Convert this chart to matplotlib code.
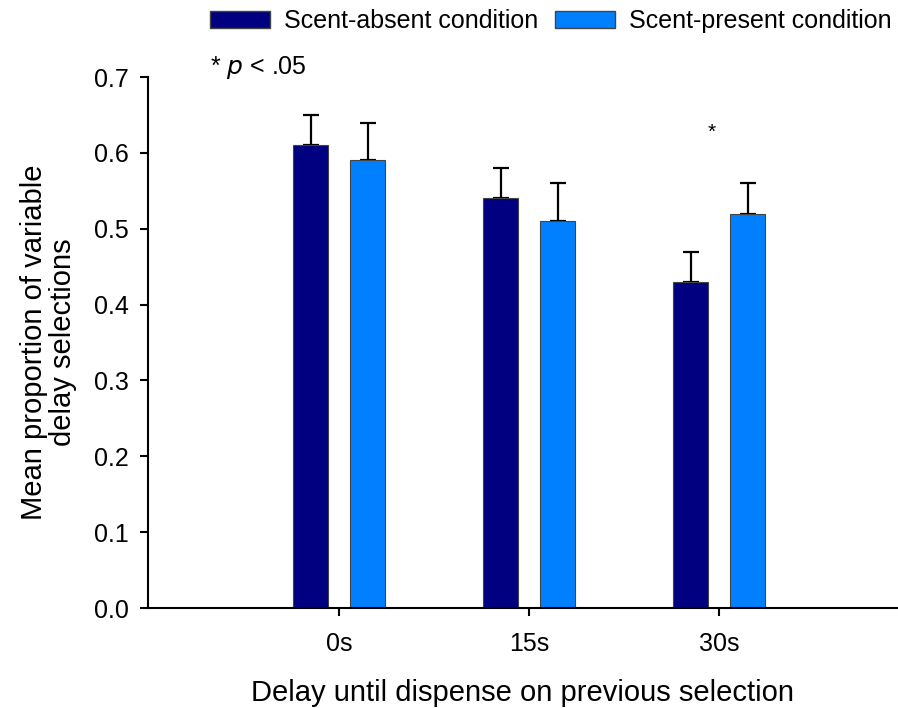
import matplotlib.pyplot as plt
from matplotlib.patches import Patch
import numpy as np

plt.rcParams['font.family'] = ['Liberation Sans', 'DejaVu Sans']

delays = ["0s", "15s", "30s"]
absent_mean = [0.61, 0.54, 0.43]
absent_err = [0.04, 0.04, 0.04]
present_mean = [0.59, 0.51, 0.52]
present_err = [0.05, 0.05, 0.04]

dark = "#000080"
light = "#0080FF"

fig = plt.figure(figsize=(8.98, 7.08), dpi=100)
ax = fig.add_axes([0.1648, 0.1412, 0.8352, 0.75])

x = np.arange(len(delays))
w = 0.184
off = 0.15

ax.bar(x - off, absent_mean, w, color=dark, edgecolor="#444444", linewidth=0.8, zorder=2)
ax.bar(x + off, present_mean, w, color=light, edgecolor="#444444", linewidth=0.8, zorder=2)
# upper error bars only
ax.errorbar(x - off, absent_mean, yerr=[[0] * 3, absent_err], fmt="none",
            ecolor="black", elinewidth=1.6, capsize=6, capthick=1.6, zorder=1)
ax.errorbar(x + off, present_mean, yerr=[[0] * 3, present_err], fmt="none",
            ecolor="black", elinewidth=1.6, capsize=6, capthick=1.6, zorder=1)

# significance mark over the 30s pair
ax.text(1.96, 0.627, "*", ha="center", va="center", fontsize=15)

ax.set_xlim(-1.005, 2.94)
ax.set_ylim(0, 0.7)
ax.set_yticks(np.arange(0, 0.71, 0.1))
ax.set_yticklabels([f"{v:.1f}" for v in np.arange(0, 0.71, 0.1)])
ax.set_xticks(x)
ax.set_xticklabels(delays)

for s in ["top", "right"]:
    ax.spines[s].set_visible(False)
for s in ["left", "bottom"]:
    ax.spines[s].set_linewidth(1.5)
ax.tick_params(axis="both", direction="out", length=6, width=1.5, labelsize=18)
ax.tick_params(axis="y", pad=8)
ax.tick_params(axis="x", pad=11)

ax.set_xlabel("Delay until dispense on previous selection", fontsize=21, labelpad=17)
ax.set_ylabel("Mean proportion of variable\ndelay selections", fontsize=21,
              labelpad=12, linespacing=1.05)

fig.text(0.234, 0.905, "* $\\it{p}$ < .05", fontsize=18, va="center")

handles = [Patch(facecolor=dark, edgecolor="#444444"),
           Patch(facecolor=light, edgecolor="#444444")]
fig.legend(handles, ["Scent-absent condition", "Scent-present condition"],
           loc="upper right", bbox_to_anchor=(1.018, 1.019), ncol=2, frameon=False,
           fontsize=18, handlelength=2.4, handleheight=0.65, handletextpad=0.55,
           columnspacing=0.7)

fig.savefig("out.png", dpi=100)
